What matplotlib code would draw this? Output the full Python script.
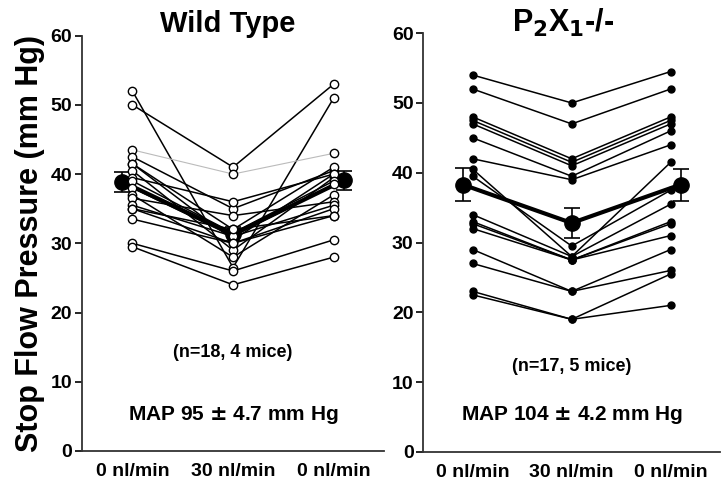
import matplotlib
matplotlib.use('Agg')
import matplotlib.pyplot as plt
import numpy as np

# x categories
conditions = ['0 nl/min', '30 nl/min', '0 nl/min']

# Wild type, 18 tubules (before / during / after 30 nl/min)
wt_before = [52, 50, 43.5, 42.5, 41.5, 41.5, 40.5, 39.5, 39, 38, 37, 36.5, 35.5, 35, 35, 33.5, 30, 29.5]
wt_during = [26.5, 41, 40, 35, 32, 30.5, 29, 36, 31.5, 31, 28, 34, 31, 30, 32, 30, 26, 24]
wt_after = [51, 53, 43, 40.5, 41, 40, 39.5, 40, 39, 38.5, 37, 36, 35.5, 35, 34, 34, 30.5, 28]
wt_mean = [38.9, 31.3, 39.1]
wt_sem = [1.45, 1.0, 1.4]

# P2X1 -/-, 17 tubules
ko_before = [54, 52, 48, 47.5, 47, 45, 42, 40.5, 39.5, 34, 33, 32.7, 32, 29, 27, 23, 22.5]
ko_during = [50, 47, 42, 41.5, 41, 39.5, 39, 28, 29.5, 28, 27.5, 27.5, 27.5, 23, 23, 19, 19]
ko_after = [54.5, 52, 48, 47.5, 47, 46, 44, 41.5, 37.5, 35.5, 33, 32.7, 31, 29, 26, 25.5, 21]
ko_mean = [38.3, 32.8, 38.3]
ko_sem = [2.4, 2.2, 2.3]

plt.rcParams['font.family'] = ['Liberation Sans', 'DejaVu Sans']
plt.rcParams['font.weight'] = 'bold'
plt.rcParams['mathtext.default'] = 'bf'

fig = plt.figure(figsize=(7.26, 4.95), dpi=100)
ax1 = fig.add_axes([0.113, 0.089, 0.416, 0.839])
ax2 = fig.add_axes([0.583, 0.087, 0.409, 0.846])

x = np.arange(3)
mx = x + np.array([-0.1, 0, 0.1])  # mean symbols sit a bit outside the columns

# left panel
for i in range(len(wt_before)):
    col = '#bbbbbb' if i == 2 else 'black'
    lw = 0.8 if i == 2 else 1.1
    ax1.plot(x, [wt_before[i], wt_during[i], wt_after[i]], '-', color=col, lw=lw, zorder=3)
ax1.plot(mx, wt_mean, '-', color='black', lw=3, zorder=2)
ax1.errorbar(mx, wt_mean, yerr=wt_sem, fmt='o', color='black', ms=11,
             capsize=6, elinewidth=1.2, capthick=1.2, zorder=2)
for i in range(len(wt_before)):
    ax1.plot(x, [wt_before[i], wt_during[i], wt_after[i]], 'o', ls='none',
             mfc='white', mec='black', ms=6, mew=1.0, zorder=4)
ax1.text(1, 14.2, '(n=18, 4 mice)', ha='center', va='center', fontsize=13, fontweight='bold')
ax1.text(1, 5.2, 'MAP 95 $\\pm$ 4.7 mm Hg', ha='center', va='center', fontsize=15, fontweight='bold')
ax1.set_ylabel('Stop Flow Pressure (mm Hg)', fontsize=22, fontweight='bold', labelpad=4)

# right panel
for i in range(len(ko_before)):
    ax2.plot(x, [ko_before[i], ko_during[i], ko_after[i]], '-o', color='black',
             lw=1.1, ms=5, zorder=3)
ax2.plot(mx, ko_mean, '-', color='black', lw=3, zorder=4)
ax2.errorbar(mx, ko_mean, yerr=ko_sem, fmt='o', color='black', ms=11,
             capsize=6, elinewidth=1.2, capthick=1.2, zorder=4)
ax2.text(1, 12.2, '(n=17, 5 mice)', ha='center', va='center', fontsize=13, fontweight='bold')
ax2.text(1, 5.3, 'MAP 104 $\\pm$ 4.2 mm Hg', ha='center', va='center', fontsize=15, fontweight='bold')

# panel titles
fig.text(0.314, 0.935, 'Wild Type', ha='center', va='baseline', fontsize=21, fontweight='bold')
fig.text(0.776, 0.935, 'P$_2$X$_1$-/-', ha='center', va='baseline', fontsize=22, fontweight='bold')

for ax in [ax1, ax2]:
    ax.set_xlim(-0.5, 2.5)
    ax.set_ylim(0, 60)
    ax.set_yticks([0, 10, 20, 30, 40, 50, 60])
    ax.set_xticks(x)
    ax.set_xticklabels(conditions)
    ax.tick_params(axis='x', length=0, pad=9, labelsize=14)
    ax.tick_params(axis='y', length=5, width=1.2, pad=2, labelsize=14)
    ax.spines['top'].set_visible(False)
    ax.spines['right'].set_visible(False)
    ax.spines['left'].set_linewidth(1.3)
    ax.spines['bottom'].set_linewidth(1.3)
    ax.spines['left'].set_color('#333333')
    ax.spines['bottom'].set_color('#333333')
    for lab in ax.get_xticklabels() + ax.get_yticklabels():
        lab.set_fontweight('bold')

plt.savefig('out.png', dpi=100)
